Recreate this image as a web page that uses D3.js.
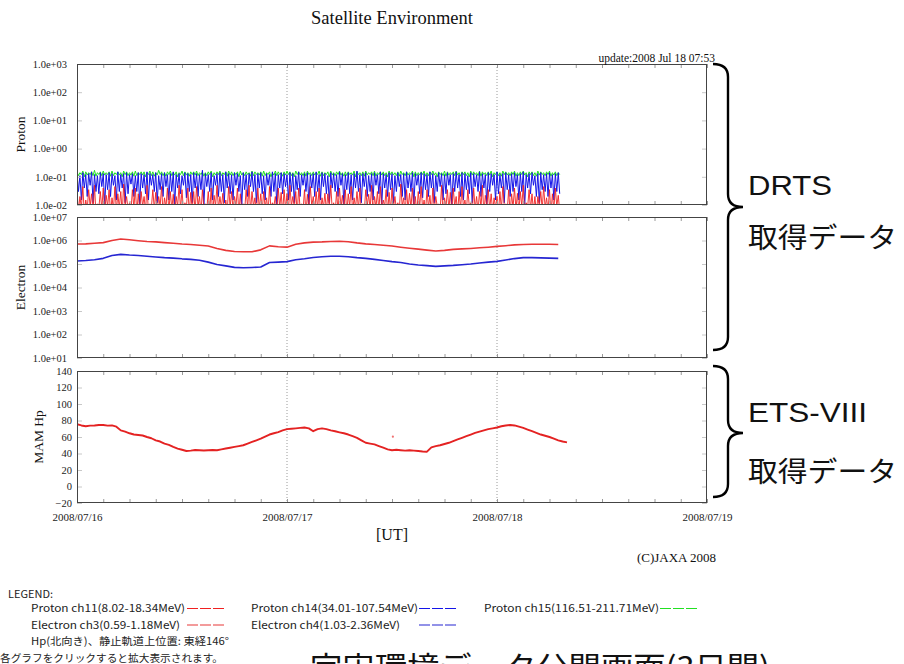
<!DOCTYPE html>
<html>
<head>
<meta charset="utf-8">
<script src="https://cdn.jsdelivr.net/npm/d3@7"></script>
<style>
  html, body { margin: 0; padding: 0; background: #fff; }
  svg { display: block; }
</style>
</head>
<body>
<svg id="chart" width="904" height="664"></svg>
<script>
// ---- Data -------------------------------------------------------------
const seriesStart = "2008-07-16T00:00:00Z";

// Proton flux: highest and lowest reading in each 20-minute window
const protonStepMin = 20;
const protonCh11Max = [
  0.03,0.02,0.045,0.015,0.035,0.025,0.05,0.011,0.03,0.04,
  0.022,0.035,0.018,0.045,0.025,0.03,0.055,0.02,0.012,0.035,
  0.04,0.025,0.03,0.02,0.05,0.011,0.035,0.028,0.02,0.045,
  0.018,0.04,0.03,0.024,0.02,0.05,0.035,0.012,0.04,0.028,
  0.03,0.045,0.02,0.035,0.011,0.03,0.04,0.022,0.05,0.02,
  0.026,0.015,0.045,0.03,0.02,0.04,0.025,0.011,0.035,0.05,
  0.03,0.018,0.04,0.025,0.03,0.018,0.045,0.012,0.02,0.04,
  0.028,0.035,0.025,0.05,0.02,0.03,0.04,0.011,0.035,0.024,
  0.045,0.02,0.03,0.04,0.018,0.026,0.025,0.05,0.012,0.03,
  0.04,0.022,0.035,0.025,0.045,0.018,0.03,0.04,0.011,0.035,
  0.024,0.05,0.02,0.03,0.045,0.015,0.035,0.028,0.04,0.02,
  0.012,0.055,0.018,0.035,0.026,0.04,0.02,0.03,0.045,0.015,
  0.035,0.022,0.04,0.02,0.011,0.05,0.018,0.035,0.028,0.04,
  0.02,0.03,0.045,0.015,0.035,0.012,0.04,0.02,0.03,0.05,
  0.022,0.035,0.025,0.018,0.02,0.03,0.045,0.011,0.035,0.025,
  0.04,0.026,0.03,0.05,0.012,0.035,0.025,0.02,0.02,0.03,
  0.045,0.018,0.035,0.025,0.04,0.022
];
const protonCh11Min = [
  0.006,0.008,0.005,0.007,0.009,0.006,0.005,0.008,0.007,0.006,
  0.009,0.005,0.007,0.006,0.008,0.005,0.009,0.007,0.006,0.008,
  0.005,0.007,0.009,0.006,0.005,0.008,0.007,0.006,0.009,0.005,
  0.008,0.006,0.007,0.005,0.009,0.007,0.006,0.008,0.005,0.007,
  0.006,0.009,0.005,0.008,0.007,0.006,0.005,0.009,0.007,0.008,
  0.005,0.006,0.008,0.007,0.009,0.005,0.006,0.007,0.008,0.006,
  0.009,0.005,0.007,0.006,0.008,0.005,0.007,0.009,0.006,0.008,
  0.005,0.007,0.006,0.009,0.008,0.005,0.007,0.006,0.005,0.008,
  0.009,0.006,0.007,0.005,0.008,0.006,0.009,0.007,0.005,0.006,
  0.008,0.007,0.005,0.009,0.006,0.008,0.007,0.005,0.006,0.009,
  0.007,0.005,0.008,0.006,0.007,0.009,0.005,0.006,0.008,0.007,
  0.006,0.009,0.005,0.007,0.008,0.006,0.005,0.009,0.007,0.006,
  0.008,0.005,0.007,0.009,0.006,0.005,0.008,0.007,0.006,0.009,
  0.005,0.007,0.008,0.006,0.009,0.005,0.007,0.006,0.008,0.005,
  0.009,0.007,0.006,0.008,0.005,0.007,0.009,0.006,0.005,0.008,
  0.007,0.006,0.009,0.005,0.008,0.007,0.006,0.005,0.009,0.007,
  0.008,0.006,0.005,0.007,0.009,0.006
];
const protonCh14Max = [
  0.13,0.11,0.14,0.12,0.13,0.15,0.12,0.11,0.14,0.13,
  0.12,0.14,0.13,0.11,0.15,0.12,0.13,0.14,0.12,0.13,
  0.11,0.14,0.13,0.12,0.15,0.13,0.12,0.14,0.11,0.13,
  0.14,0.12,0.13,0.15,0.12,0.13,0.11,0.14,0.13,0.12,
  0.14,0.13,0.12,0.17,0.13,0.12,0.14,0.11,0.13,0.14,
  0.12,0.15,0.13,0.12,0.14,0.13,0.11,0.14,0.12,0.13,
  0.15,0.12,0.13,0.14,0.11,0.13,0.12,0.15,0.13,0.12,
  0.14,0.13,0.12,0.14,0.13,0.11,0.15,0.12,0.13,0.14,
  0.12,0.13,0.15,0.12,0.14,0.13,0.11,0.14,0.13,0.12,
  0.15,0.13,0.12,0.14,0.12,0.13,0.16,0.12,0.13,0.14,
  0.11,0.13,0.14,0.12,0.15,0.13,0.12,0.14,0.13,0.11,
  0.14,0.12,0.13,0.15,0.12,0.14,0.13,0.12,0.14,0.13,
  0.12,0.15,0.13,0.11,0.14,0.13,0.12,0.14,0.12,0.13,
  0.15,0.12,0.14,0.13,0.11,0.14,0.13,0.12,0.15,0.13,
  0.12,0.14,0.13,0.12,0.15,0.12,0.13,0.14,0.12,0.13,
  0.14,0.12,0.13,0.15,0.12,0.13,0.14,0.11,0.13,0.14,
  0.12,0.13,0.14,0.12,0.13,0.14
];
const protonCh14Min = [
  0.03,0.015,0.04,0.02,0.05,0.012,0.03,0.025,0.045,0.01,
  0.035,0.02,0.05,0.015,0.03,0.04,0.012,0.025,0.055,0.02,
  0.03,0.01,0.04,0.025,0.015,0.05,0.03,0.012,0.035,0.02,
  0.045,0.015,0.03,0.01,0.04,0.025,0.05,0.018,0.03,0.012,
  0.04,0.02,0.035,0.01,0.045,0.03,0.015,0.05,0.02,0.03,
  0.012,0.04,0.025,0.015,0.05,0.03,0.01,0.035,0.02,0.045,
  0.03,0.012,0.04,0.025,0.015,0.05,0.02,0.03,0.01,0.04,
  0.025,0.045,0.015,0.03,0.012,0.035,0.02,0.05,0.03,0.01,
  0.04,0.02,0.03,0.015,0.045,0.025,0.012,0.04,0.03,0.02,
  0.05,0.01,0.035,0.025,0.015,0.04,0.03,0.012,0.045,0.02,
  0.03,0.015,0.05,0.025,0.01,0.04,0.02,0.035,0.012,0.03,
  0.045,0.02,0.015,0.04,0.03,0.01,0.05,0.025,0.018,0.035,
  0.02,0.04,0.012,0.03,0.045,0.015,0.025,0.05,0.01,0.03,
  0.04,0.02,0.015,0.035,0.025,0.012,0.045,0.03,0.02,0.04,
  0.01,0.03,0.05,0.015,0.025,0.04,0.012,0.035,0.02,0.03,
  0.045,0.015,0.03,0.01,0.04,0.025,0.05,0.02,0.012,0.035,
  0.03,0.02,0.04,0.015,0.03,0.025
];
const protonCh15Max = [
  0.15,0.14,0.16,0.15,0.14,0.15,0.17,0.14,0.15,0.16,
  0.14,0.15,0.16,0.14,0.15,0.14,0.16,0.15,0.14,0.15,
  0.16,0.14,0.15,0.15,0.14,0.16,0.15,0.14,0.17,0.15,
  0.14,0.15,0.16,0.14,0.15,0.14,0.16,0.15,0.14,0.15,
  0.15,0.16,0.14,0.15,0.14,0.15,0.16,0.14,0.15,0.16,
  0.14,0.15,0.16,0.15,0.14,0.15,0.16,0.14,0.15,0.14,
  0.16,0.15,0.14,0.15,0.16,0.14,0.15,0.14,0.16,0.15,
  0.14,0.15,0.16,0.15,0.14,0.16,0.15,0.14,0.15,0.16,
  0.14,0.15,0.14,0.16,0.15,0.14,0.15,0.16,0.14,0.15,
  0.16,0.14,0.15,0.15,0.14,0.16,0.15,0.14,0.15,0.16,
  0.14,0.15,0.16,0.14,0.15,0.15,0.14,0.16,0.15,0.14,
  0.15,0.16,0.14,0.15,0.14,0.16,0.15,0.14,0.15,0.16,
  0.14,0.15,0.16,0.14,0.15,0.14,0.16,0.15,0.14,0.15,
  0.16,0.14,0.15,0.15,0.14,0.16,0.15,0.14,0.16,0.15,
  0.14,0.15,0.16,0.14,0.15,0.14,0.16,0.15,0.14,0.15,
  0.16,0.14,0.15,0.16,0.14,0.15,0.15,0.14,0.16,0.15,
  0.14,0.15,0.16,0.14,0.15,0.14
];
const protonCh15Min = [
  0.11,0.12,0.10,0.115,0.12,0.11,0.105,0.12,0.11,0.115,
  0.12,0.105,0.11,0.12,0.115,0.10,0.12,0.11,0.115,0.105,
  0.11,0.12,0.115,0.10,0.12,0.11,0.105,0.115,0.12,0.11,
  0.105,0.12,0.11,0.115,0.10,0.12,0.11,0.115,0.105,0.12,
  0.115,0.11,0.12,0.105,0.11,0.12,0.10,0.115,0.12,0.11,
  0.12,0.105,0.115,0.11,0.12,0.10,0.115,0.11,0.12,0.105,
  0.11,0.12,0.115,0.105,0.11,0.12,0.10,0.115,0.11,0.12,
  0.105,0.115,0.12,0.11,0.10,0.12,0.115,0.11,0.105,0.12,
  0.11,0.115,0.12,0.105,0.11,0.12,0.10,0.115,0.11,0.12,
  0.115,0.105,0.11,0.12,0.115,0.10,0.12,0.11,0.105,0.115,
  0.12,0.11,0.105,0.12,0.115,0.11,0.10,0.12,0.115,0.11,
  0.105,0.12,0.11,0.115,0.12,0.10,0.11,0.115,0.12,0.105,
  0.11,0.12,0.115,0.10,0.12,0.11,0.105,0.115,0.12,0.11,
  0.115,0.105,0.12,0.11,0.10,0.115,0.12,0.11,0.105,0.12,
  0.11,0.115,0.10,0.12,0.11,0.105,0.12,0.115,0.11,0.12,
  0.105,0.11,0.12,0.115,0.10,0.12,0.11,0.105,0.115,0.12,
  0.11,0.12,0.105,0.115,0.11,0.12
];

// Electron flux, hourly samples
const electronStepMin = 60;
const electronCh3 = [
  7.1e5,7.2e5,7.6e5,8.1e5,1.0e6,1.15e6,1.07e6,9.8e5,9.1e5,8.7e5,
  8.1e5,7.6e5,7.1e5,6.8e5,6.3e5,5.8e5,4.6e5,3.8e5,3.4e5,3.3e5,
  3.3e5,4.0e5,5.9e5,5.4e5,5.2e5,6.9e5,7.9e5,8.5e5,8.7e5,9.1e5,
  9.3e5,8.9e5,7.9e5,7.2e5,6.8e5,6.3e5,5.8e5,5.2e5,4.7e5,4.3e5,
  3.9e5,3.6e5,3.8e5,4.2e5,4.4e5,4.6e5,4.9e5,5.2e5,5.6e5,6.0e5,
  6.5e5,6.8e5,6.9e5,6.9e5,6.9e5,6.8e5
];
const electronCh4 = [
  1.35e5,1.41e5,1.51e5,1.74e5,2.29e5,2.57e5,2.4e5,2.29e5,2.14e5,2.0e5,
  1.86e5,1.78e5,1.66e5,1.58e5,1.45e5,1.2e5,9.5e4,8.3e4,7.2e4,6.9e4,
  7.1e4,7.4e4,1.15e5,1.2e5,1.26e5,1.51e5,1.66e5,1.9e5,2.04e5,2.14e5,
  2.14e5,2.04e5,1.86e5,1.74e5,1.58e5,1.41e5,1.26e5,1.15e5,1.0e5,9.1e4,
  8.5e4,7.9e4,8.3e4,8.7e4,9.3e4,1.0e5,1.1e5,1.2e5,1.29e5,1.48e5,
  1.7e5,1.86e5,1.86e5,1.82e5,1.78e5,1.74e5
];

// MAM Hp magnetic field, 30-minute samples
const hpStepMin = 30;
const mamHp = [
  75.5,74.0,73.0,73.8,74.0,74.6,74.5,73.8,74.0,72.5,
  68.0,66.5,64.5,63.0,62.5,61.8,60.0,58.5,56.0,54.5,
  52.0,50.5,48.0,46.0,44.5,43.0,43.5,44.2,44.0,43.6,
  44.0,44.3,44.0,45.0,46.0,47.0,48.0,49.0,50.0,52.0,
  54.0,56.0,58.0,60.5,63.0,64.5,66.0,68.0,69.5,70.0,
  70.5,71.0,71.5,70.5,67.0,69.5,70.5,69.5,68.0,67.0,
  65.7,64.5,63.0,61.0,59.0,56.0,53.0,52.0,51.0,49.0,
  47.0,45.0,44.0,44.5,44.0,43.5,44.0,43.5,43.0,42.5,
  42.2,47.5,49.0,50.0,51.5,53.0,55.0,57.0,59.0,61.0,
  63.0,65.0,66.5,68.0,69.5,70.5,71.5,73.0,74.0,74.5,
  74.0,72.5,71.0,69.0,67.0,65.0,63.0,61.5,60.0,58.0,
  56.0,54.5,53.5
];
const hpStrayHour = [36.1];
const hpStrayValue = [60.4];

// Axis ticks
const dayTicks = ["2008-07-16T00:00:00Z","2008-07-17T00:00:00Z","2008-07-18T00:00:00Z","2008-07-19T00:00:00Z"];
const protonTicks = [1e-2,1e-1,1e0,1e1,1e2,1e3];
const electronTicks = [1e1,1e2,1e3,1e4,1e5,1e6,1e7];
const hpTicks = [-20,0,20,40,60,80,100,120,140];

// ---- Drawing ---------------------------------------------------------
const SERIF = "'Liberation Serif','Times New Roman',serif";
const GOTHIC = "'Noto Sans CJK JP','Noto Sans',sans-serif";
const ARIAL = "'Liberation Sans',Arial,sans-serif";

const svg = d3.select("#chart");
svg.append("rect").attr("width", 904).attr("height", 664).attr("fill", "#fff");

const plotLeft = 77, plotRight = 707;
const days = dayTicks.map(d => new Date(d));
const t0 = new Date(seriesStart);
const x = d3.scaleUtc().domain([days[0], days[days.length - 1]]).range([plotLeft, plotRight]);

const toSeries = (vals, stepMin) => vals.map((v, i) => ({ t: new Date(+t0 + i * stepMin * 60000), v }));
// window max at the start of each window, window min half a step later
const toEnvelope = (hi, lo, stepMin) => hi.flatMap((v, i) => [
  { t: new Date(+t0 + i * stepMin * 60000), v },
  { t: new Date(+t0 + (i + 0.5) * stepMin * 60000), v: lo[i] }
]);

const expFmt = d => {
  const e = Math.round(Math.log10(d));
  return "1.0e" + (e < 0 ? "-" : "+") + String(Math.abs(e)).padStart(2, "0");
};

const panels = [
  { id: "p", top: 64, bottom: 205, y: d3.scaleLog().domain([1e-2, 1e3]), ticks: protonTicks, fmt: expFmt,
    title: "Proton", titleX: 25, pad: 10,
    series: [
      { data: toEnvelope(protonCh15Max, protonCh15Min, protonStepMin), color: "#22e022", w: 1 },
      { data: toEnvelope(protonCh14Max, protonCh14Min, protonStepMin), color: "#1414e8", w: 1 },
      { data: toEnvelope(protonCh11Max, protonCh11Min, protonStepMin), color: "#f02020", w: 0.9 }
    ] },
  { id: "e", top: 217, bottom: 358, y: d3.scaleLog().domain([1e1, 1e7]), ticks: electronTicks, fmt: expFmt,
    title: "Electron", titleX: 25, pad: 10,
    series: [
      { data: toSeries(electronCh3, electronStepMin), color: "#e83838", w: 1.6 },
      { data: toSeries(electronCh4, electronStepMin), color: "#2626d2", w: 1.6 }
    ] },
  { id: "h", top: 371, bottom: 503, y: d3.scaleLinear().domain([-20, 140]), ticks: hpTicks, fmt: d3.format("d"),
    title: "MAM Hp", titleX: 43, pad: 5,
    series: [
      { data: toSeries(mamHp, hpStepMin), color: "#e42222", w: 1.9 }
    ] }
];

panels.forEach(p => {
  p.y.range([p.bottom, p.top]);
  const g = svg.append("g");

  g.append("clipPath").attr("id", "clip-" + p.id)
    .append("rect").attr("x", plotLeft).attr("y", p.top)
    .attr("width", plotRight - plotLeft).attr("height", p.bottom - p.top);

  // dotted day separators
  g.selectAll(".grid").data(days.slice(1, -1)).join("line")
    .attr("x1", d => x(d)).attr("x2", d => x(d))
    .attr("y1", p.top).attr("y2", p.bottom)
    .attr("stroke", "#9a9a9a").attr("stroke-width", 1).attr("stroke-dasharray", "1,2");

  const plot = g.append("g").attr("clip-path", `url(#clip-${p.id})`);
  const line = d3.line().x(d => x(d.t)).y(d => p.y(d.v));
  p.series.forEach(s => {
    plot.append("path").datum(s.data).attr("d", line)
      .attr("fill", "none").attr("stroke", s.color).attr("stroke-width", s.w)
      .attr("stroke-linejoin", "round");
  });

  if (p.id === "h") {
    plot.selectAll(".stray").data(hpStrayHour.map((h, i) => ({ t: new Date(+t0 + h * 3600000), v: hpStrayValue[i] })))
      .join("circle").attr("cx", d => x(d.t)).attr("cy", d => p.y(d.v)).attr("r", 1.1)
      .attr("fill", "#f07070");
  }

  // left axis with labels, ticks pointing inward
  const la = g.append("g").attr("transform", `translate(${plotLeft},0)`)
    .call(d3.axisLeft(p.y).tickValues(p.ticks).tickFormat(p.fmt).tickSize(-5).tickPadding(p.pad));
  la.select(".domain").remove();
  la.selectAll(".tick line").attr("stroke", "#c8c8c8");
  la.selectAll(".tick text").attr("font-family", SERIF).attr("font-size", 10.5).attr("fill", "#222");

  // mirrored right axis
  const ra = g.append("g").attr("transform", `translate(${plotRight},0)`)
    .call(d3.axisRight(p.y).tickValues(p.ticks).tickFormat("").tickSize(-5));
  ra.select(".domain").remove();
  ra.selectAll(".tick line").attr("stroke", "#c8c8c8");

  // 3-hour minor ticks on top and bottom edges
  const hourTicks = x.ticks(d3.utcHour.every(3));
  const ba = g.append("g").attr("transform", `translate(0,${p.bottom})`)
    .call(d3.axisBottom(x).tickValues(hourTicks).tickFormat("").tickSize(-4));
  ba.select(".domain").remove();
  ba.selectAll(".tick line").attr("stroke", "#9a9a9a");
  const ta = g.append("g").attr("transform", `translate(0,${p.top})`)
    .call(d3.axisTop(x).tickValues(hourTicks).tickFormat("").tickSize(-4));
  ta.select(".domain").remove();
  ta.selectAll(".tick line").attr("stroke", "#9a9a9a");

  // frame
  g.append("rect").attr("x", plotLeft + 0.5).attr("y", p.top + 0.5)
    .attr("width", plotRight - plotLeft - 1).attr("height", p.bottom - p.top - 1)
    .attr("fill", "none").attr("stroke", "#444").attr("stroke-width", 1);

  // panel title
  g.append("text").attr("transform", `translate(${p.titleX},${(p.top + p.bottom) / 2}) rotate(-90)`)
    .attr("text-anchor", "middle").attr("font-family", SERIF).attr("font-size", 13.5).attr("fill", "#111")
    .text(p.title);
});

// date labels under the last panel
const last = panels[panels.length - 1];
const da = svg.append("g").attr("transform", `translate(0,${last.bottom})`)
  .call(d3.axisBottom(x).tickValues(days).tickFormat(d3.utcFormat("%Y/%m/%d")).tickSize(0).tickPadding(10));
da.select(".domain").remove();
da.selectAll(".tick text").attr("font-family", SERIF).attr("font-size", 11).attr("fill", "#222");

// headings and notes
svg.append("text").attr("x", (plotLeft + plotRight) / 2).attr("y", 24).attr("text-anchor", "middle")
  .attr("font-family", SERIF).attr("font-size", 18.5).attr("fill", "#111").text("Satellite Environment");
svg.append("text").attr("x", 715).attr("y", 62).attr("text-anchor", "end")
  .attr("font-family", SERIF).attr("font-size", 11.5).attr("fill", "#111").text("update:2008 Jul 18 07:53");
svg.append("text").attr("x", (plotLeft + plotRight) / 2).attr("y", 540).attr("text-anchor", "middle")
  .attr("font-family", SERIF).attr("font-size", 16).attr("fill", "#111").text("[UT]");
svg.append("text").attr("x", 716).attr("y", 562).attr("text-anchor", "end")
  .attr("font-family", SERIF).attr("font-size", 13).attr("fill", "#111").text("(C)JAXA 2008");

// legend
const legendRows = [
  { text: "LEGEND:", x: 8, y: 598, len: 45 },
  { text: "Proton ch11(8.02-18.34MeV)", x: 31, y: 612, len: 154, color: "#f02020", lx: 187 },
  { text: "Proton ch14(34.01-107.54MeV)", x: 251, y: 612, len: 167, color: "#1414e8", lx: 419 },
  { text: "Proton ch15(116.51-211.71MeV)", x: 484, y: 612, len: 175, color: "#22e022", lx: 660 },
  { text: "Electron ch3(0.59-1.18MeV)", x: 31, y: 628.5, len: 149, color: "#e83838", lx: 187 },
  { text: "Electron ch4(1.03-2.36MeV)", x: 251, y: 628.5, len: 149, color: "#2626d2", lx: 419 },
  { text: "Hp(北向き)、静止軌道上位置: 東経146°", x: 31, y: 645, len: 198 },
  { text: "各グラフをクリックすると拡大表示されます。", x: 0, y: 662, len: 223 }
];
const lg = svg.append("g");
legendRows.forEach(r => {
  lg.append("text").attr("x", r.x).attr("y", r.y).attr("font-family", GOTHIC).attr("font-size", 10.5)
    .attr("fill", "#222").attr("textLength", r.len).attr("lengthAdjust", "spacingAndGlyphs").text(r.text);
  if (r.color) {
    lg.append("line").attr("x1", r.lx).attr("x2", r.lx + 38).attr("y1", r.y - 3.5).attr("y2", r.y - 3.5)
      .attr("stroke", r.color).attr("stroke-width", 1.2).attr("stroke-dasharray", "11,2");
  }
});

// satellite group braces
function brace(yTop, yTip, yBot) {
  const x0 = 713, xm = 728, xt = 743, r = 13;
  return `M${x0},${yTop} Q${xm},${yTop} ${xm},${yTop + r} L${xm},${yTip - r} Q${xm},${yTip} ${xt},${yTip}` +
         ` Q${xm},${yTip} ${xm},${yTip + r} L${xm},${yBot - r} Q${xm},${yBot} ${x0},${yBot}`;
}
svg.append("path").attr("d", brace(64, 207, 350)).attr("fill", "none").attr("stroke", "#000").attr("stroke-width", 2.4);
svg.append("path").attr("d", brace(366, 433, 497)).attr("fill", "none").attr("stroke", "#000").attr("stroke-width", 2.4);

const sideLabels = [
  { text: "DRTS", y: 195, font: ARIAL, len: 84 },
  { text: "取得データ", y: 248, font: GOTHIC, len: 149 },
  { text: "ETS-VIII", y: 422, font: ARIAL, len: 119 },
  { text: "取得データ", y: 482, font: GOTHIC, len: 149 }
];
sideLabels.forEach(s => {
  svg.append("text").attr("x", 748).attr("y", s.y).attr("font-family", s.font).attr("font-size", 28)
    .attr("fill", "#111").attr("textLength", s.len).attr("lengthAdjust", "spacingAndGlyphs").text(s.text);
});

// page caption below the legend
svg.append("text").attr("x", 310).attr("y", 678).attr("font-family", GOTHIC).attr("font-size", 30)
  .attr("fill", "#111").attr("textLength", 460).attr("lengthAdjust", "spacingAndGlyphs")
  .text("宇宙環境データ公開画面(3日間)");
</script>
</body>
</html>
